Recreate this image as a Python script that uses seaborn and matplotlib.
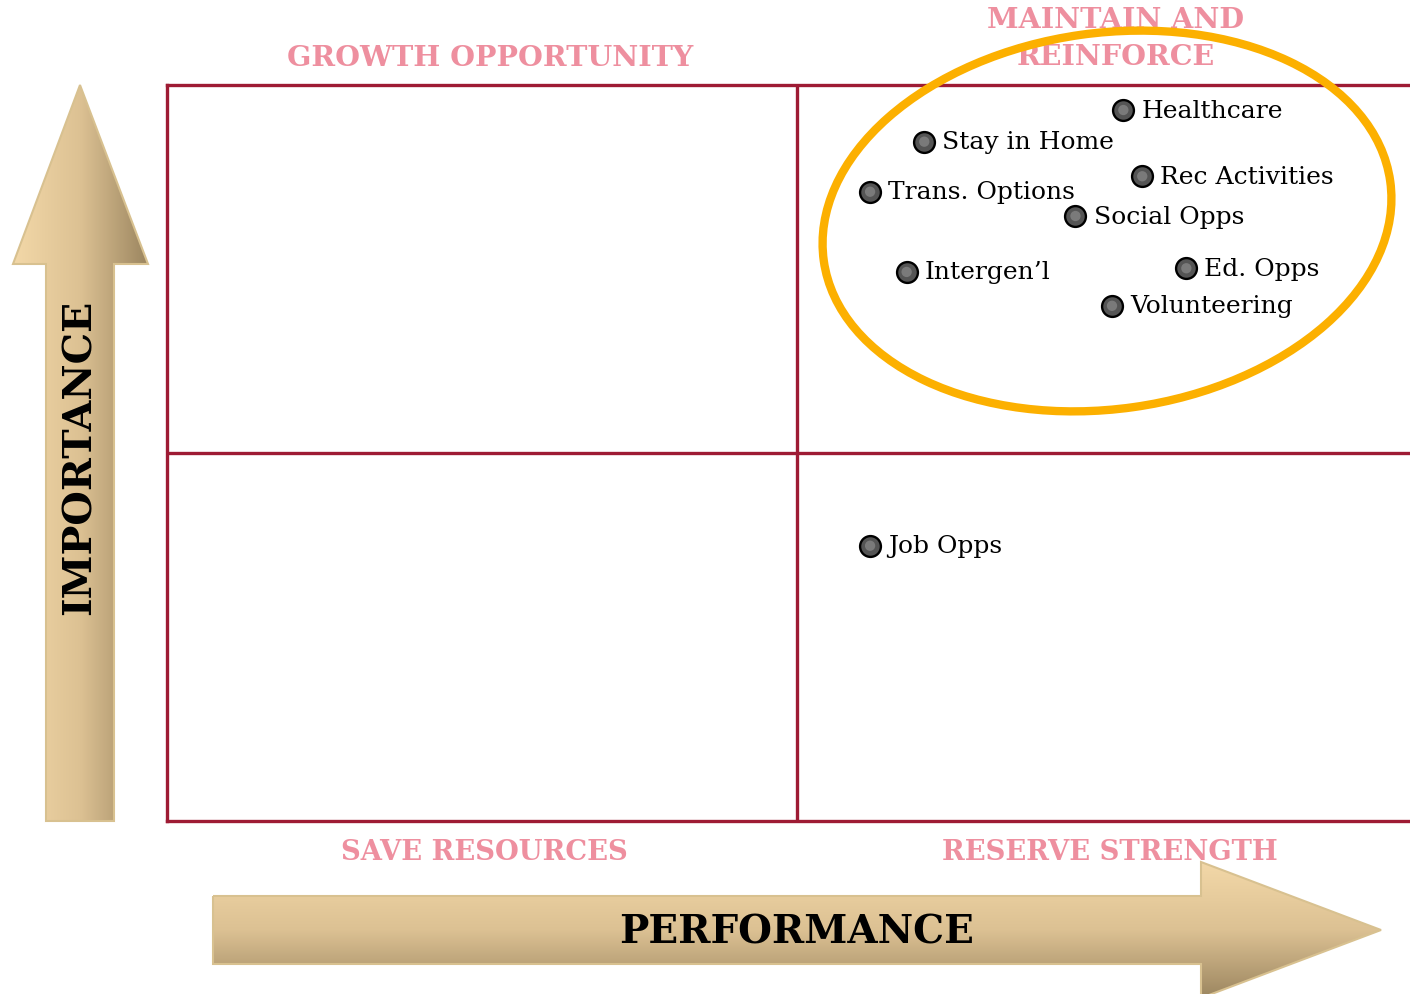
import numpy as np
import pandas as pd
import matplotlib
matplotlib.use("Agg")
import matplotlib.pyplot as plt
from matplotlib.patches import Polygon, Ellipse
from matplotlib.colors import LinearSegmentedColormap
import seaborn as sns

# ---- data ----
factors = ["Healthcare", "Stay in Home", "Rec Activities", "Trans. Options",
           "Social Opps", "Intergen\u2019l", "Ed. Opps", "Volunteering", "Job Opps"]
performance = [7.59, 6.01, 7.74, 5.58, 7.21, 5.87, 8.09, 7.50, 5.58]
importance = [9.66, 9.23, 8.76, 8.55, 8.22, 7.46, 7.51, 7.00, 3.74]
quadrant_labels = ["GROWTH OPPORTUNITY", "MAINTAIN AND\nREINFORCE",
                   "SAVE RESOURCES", "RESERVE STRENGTH"]
x_label = "PERFORMANCE"
y_label = "IMPORTANCE"

df = pd.DataFrame({"factor": factors, "performance": performance, "importance": importance})

sns.set_theme(style="white")
plt.rcParams["font.family"] = ["DejaVu Serif", "DejaVu Sans"]

W, H = 1410, 995
fig = plt.figure(figsize=(W / 100, H / 100), dpi=100)
fig.patch.set_facecolor("white")

CRIMSON = "#9E1B34"
PINK = "#EE8F9F"
ORANGE = "#FCB000"
EDGE = "#D8C190"
cmap = LinearSegmentedColormap.from_list("tan", ["#F3D8A8", "#DCC193", "#9C8660"])

# ---- background (pixel coordinate) axes: arrows and texts ----
bg = fig.add_axes([0, 0, 1, 1], zorder=0)
bg.set_xlim(0, W)
bg.set_ylim(H, 0)
bg.axis("off")

# vertical arrow
vpts = [(80, 86), (148, 265), (114, 265), (114, 822), (46, 822), (46, 265), (13, 265)]
vpoly = Polygon(vpts, closed=True, facecolor="none", edgecolor=EDGE, lw=1.5, zorder=2)
bg.add_patch(vpoly)
grad_h = np.linspace(0, 1, 256).reshape(1, -1)
im1 = bg.imshow(grad_h, cmap=cmap, extent=(13, 148, 822, 86), aspect="auto",
                origin="upper", zorder=1)
im1.set_clip_path(vpoly)

# horizontal arrow
hpts = [(213, 897), (1201, 897), (1201, 863), (1381, 931), (1201, 999), (1201, 965), (213, 965)]
hpoly = Polygon(hpts, closed=True, facecolor="none", edgecolor=EDGE, lw=1.5, zorder=2)
bg.add_patch(hpoly)
grad_v = np.linspace(0, 1, 256).reshape(-1, 1)
im2 = bg.imshow(grad_v, cmap=cmap, extent=(213, 1381, 999, 863), aspect="auto",
                origin="upper", zorder=1)
im2.set_clip_path(hpoly)
bg.set_xlim(0, W)
bg.set_ylim(H, 0)

bg.text(80, 457, y_label, rotation=90, ha="center", va="center",
        fontsize=28.5, fontweight="bold", color="black", zorder=3)
bg.text(797, 933, x_label, ha="center", va="center",
        fontsize=28, fontweight="bold", color="black", zorder=3)

qpos = [(490, 58), (1116, 39), (484, 852), (1110, 852)]
qsize = [20.5, 20.5, 19.7, 19.7]
for lab, (qx, qy), fs in zip(quadrant_labels, qpos, qsize):
    bg.text(qx, qy, lab, ha="center", va="center", fontsize=fs,
            fontweight="bold", color=PINK, linespacing=1.45, zorder=3)

# ---- main quadrant axes ----
ax = fig.add_axes([167 / W, (H - 822) / H, 1260 / W, 736 / H], zorder=1)
ax.set_facecolor("none")
ax.set_xlim(0, 10)
ax.set_ylim(0, 10)
ax.set_xticks([])
ax.set_yticks([])
for s in ["left", "bottom", "top", "right"]:
    ax.spines[s].set_color(CRIMSON)
    ax.spines[s].set_linewidth(2.4)
ax.axvline(5, color=CRIMSON, lw=2.4)
ax.axhline(5, color=CRIMSON, lw=2.4)

sns.scatterplot(data=df, x="performance", y="importance", ax=ax, s=225,
                color="#555555", edgecolor="black", linewidth=1.7, zorder=4,
                legend=False)
# lighter inner highlight to mimic the gradient marker
sns.scatterplot(data=df, x="performance", y="importance", ax=ax, s=55,
                color="#9a9a9a", edgecolor="none", linewidth=0, zorder=5,
                legend=False, alpha=0.55)
ax.set_xlabel("")
ax.set_ylabel("")

for _, r in df.iterrows():
    ax.annotate(r["factor"], (r["performance"], r["importance"]),
                xytext=(13, 0), textcoords="offset points", ha="left", va="center",
                fontsize=18, color="black", zorder=6)

# ---- overlay: highlight ellipse ----
ov = fig.add_axes([0, 0, 1, 1], zorder=2)
ov.set_xlim(0, W)
ov.set_ylim(H, 0)
ov.axis("off")
ov.patch.set_alpha(0)
ov.add_patch(Ellipse((1107, 222), 572, 376, angle=-8, facecolor="none",
                     edgecolor=ORANGE, lw=6))

fig.savefig("out.png", dpi=100, facecolor="white")
